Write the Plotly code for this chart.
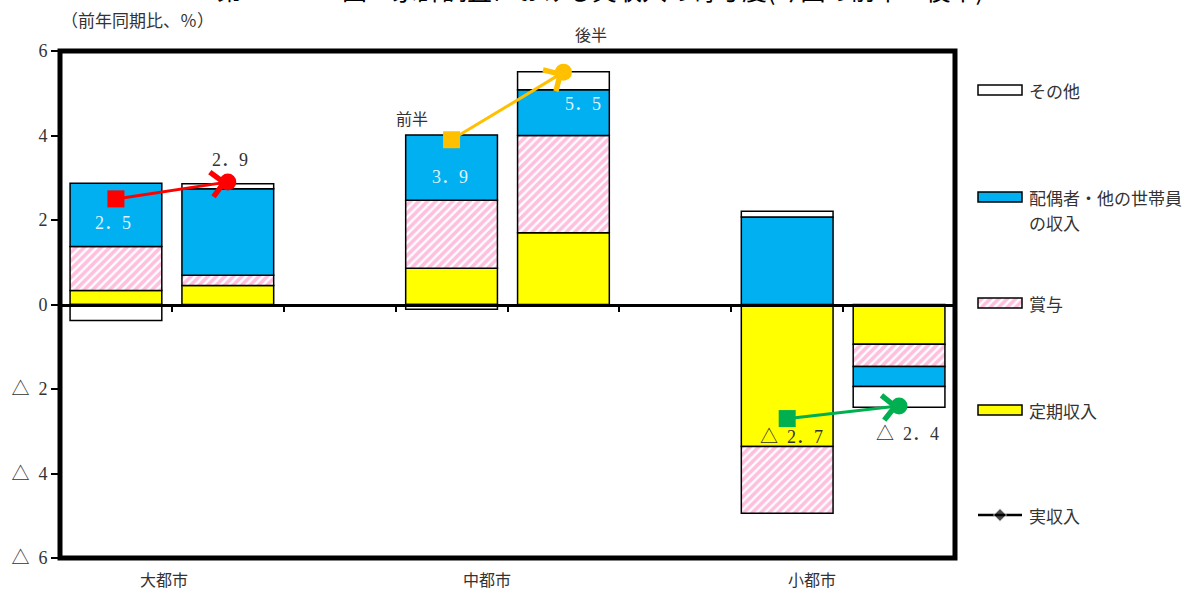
import plotly.graph_objects as go

# ---- data -------------------------------------------------------------
groups = ["大都市", "中都市", "小都市"]
halves = ["前半", "後半"]

# contributions (percentage points), order: 大前, 大後, 中前, 中後, 小前, 小後
regular = [0.33, 0.45, 0.86, 1.70, -3.36, -0.94]   # 定期収入
bonus = [1.04, 0.24, 1.61, 2.30, -1.58, -0.53]     # 賞与
spouse = [1.50, 2.05, 1.54, 1.08, 2.07, -0.47]     # 配偶者・他の世帯員の収入
other = [-0.38, 0.12, -0.11, 0.43, 0.14, -0.49]    # その他

total_first = [2.5, 3.9, -2.7]    # 実収入 前半
total_second = [2.9, 5.5, -2.4]   # 実収入 後半

y_ticks = [-6, -4, -2, 0, 2, 4, 6]

# ---- layout constants -------------------------------------------------
W, H = 1193, 590
ML, MT, MB = 60, 51, 32
PLOT_W = 895
PAPER_W = W - ML
PAPER_H = H - MT - MB

SERIF = "Liberation Serif, Noto Sans CJK JP"
SANS = "Noto Sans CJK JP"
TXT = "#333333"

arrow_colors = ["#FF0000", "#FFC000", "#00B050"]

# slot on the x axis: three slots per group, the third left empty
bar_x = [3 * g + h for g in range(len(groups)) for h in range(len(halves))]


def fmt(v, digits=1):
    s = f"{abs(v):.{digits}f}".replace(".", "．")
    return ("△\u2002" + s) if v < 0 else s


seg_styles = [
    ("定期収入", regular, dict(color="#FFFF00")),
    ("賞与", bonus, dict(color="white",
                       pattern=dict(shape="/", fgcolor="#FF80C0", bgcolor="white",
                                    size=6, solidity=0.6))),
    ("配偶者・他の世帯員の収入", spouse, dict(color="#00B0F0")),
    ("その他", other, dict(color="white")),
]

fig = go.Figure()

for name, vals, mk in seg_styles:
    fig.add_trace(go.Bar(
        x=bar_x, y=vals, name=name, width=0.82,
        marker=dict(**mk, line=dict(color="black", width=1.5)),
        showlegend=False, hoverinfo="skip",
    ))

annotations = []

# 実収入: arrow from the first half (square) to the second half (circle)
for g in range(len(groups)):
    x0, x1 = 3 * g, 3 * g + 1
    c = arrow_colors[g]
    annotations.append(dict(
        x=x1, y=total_second[g], ax=x0, ay=total_first[g],
        xref="x", yref="y", axref="x", ayref="y", text="",
        showarrow=True, arrowhead=4, arrowsize=1.6, arrowwidth=3,
        arrowcolor=c, standoff=0, startstandoff=0,
    ))
    fig.add_trace(go.Scatter(
        x=[x0], y=[total_first[g]], mode="markers",
        marker=dict(symbol="square", size=17, color=c),
        showlegend=False, hoverinfo="skip",
    ))
    fig.add_trace(go.Scatter(
        x=[x1], y=[total_second[g]], mode="markers",
        marker=dict(symbol="circle", size=17, color=c),
        showlegend=False, hoverinfo="skip",
    ))

# ---- legend (drawn on its own pixel-scaled axes) ------------------------
LEG_X0, LEG_LEN = 978, 44
legend_rows = [
    (["その他"], seg_styles[3][2], 90),
    (["配偶者・他の世帯員", "の収入"], seg_styles[2][2], 197),
    (["賞与"], seg_styles[1][2], 303),
    (["定期収入"], seg_styles[0][2], 410),
]
for label, mk, yy in legend_rows:
    fig.add_trace(go.Bar(
        x=[LEG_LEN], y=[yy], base=[LEG_X0], orientation="h", width=10,
        marker=dict(**mk, line=dict(color="black", width=1.5)),
        xaxis="x2", yaxis="y2", showlegend=False, hoverinfo="skip",
    ))
fig.add_trace(go.Scatter(
    x=[LEG_X0, LEG_X0 + LEG_LEN / 2, LEG_X0 + LEG_LEN], y=[515, 515, 515],
    mode="lines+markers", line=dict(color="black", width=2.5),
    marker=dict(symbol="diamond", size=[0, 10, 0], color="black"),
    xaxis="x2", yaxis="y2", showlegend=False, hoverinfo="skip",
))

leg_text = [(r[0], r[2]) for r in legend_rows] + [(["実収入"], 515)]
for lines, yy in leg_text:
    for k, line in enumerate(lines):
        annotations.append(dict(
            x=1027, y=yy + 25 * k, xref="x2", yref="y2", text=line,
            showarrow=False, xanchor="left", yanchor="middle",
            font=dict(family=SANS, size=17, color=TXT),
        ))

# ---- value labels -----------------------------------------------------
label_specs = [
    # (x, y, text, color, xshift, yshift)
    (0, total_first[0], fmt(total_first[0]), "#DDF2FF", -3, -24),
    (1, total_second[0], fmt(total_second[0]), TXT, 2, 22),
    (3, total_first[1], fmt(total_first[1]), "#DDF2FF", -2, -37),
    (4, total_second[1], fmt(total_second[1]), "#DDF2FF", 20, -32),
    (6, total_first[2], fmt(total_first[2]), TXT, 4, -18),
    (7, total_second[2], fmt(total_second[2]), TXT, 8, -28),
]
for x, y, t, col, xs, ys in label_specs:
    annotations.append(dict(
        x=x, y=y, xref="x", yref="y", text=t, showarrow=False,
        xanchor="center", xshift=xs, yshift=ys,
        font=dict(family=SERIF, size=18, color=col),
    ))

# half labels
annotations.append(dict(x=3, y=total_first[1], xref="x", yref="y", text=halves[0],
                        showarrow=False, xanchor="center", xshift=-40, yshift=22,
                        font=dict(family=SANS, size=16, color=TXT)))
annotations.append(dict(x=4, y=total_second[1], xref="x", yref="y", text=halves[1],
                        showarrow=False, xanchor="center", xshift=28, yshift=38,
                        font=dict(family=SANS, size=16, color=TXT)))

# group labels under the frame
group_label_x = [0.43, 3.32, 6.22]
for gx, name in zip(group_label_x, groups):
    annotations.append(dict(x=gx, y=0, xref="x", yref="paper", text=name,
                            showarrow=False, xanchor="center", yanchor="middle",
                            yshift=-21, font=dict(family=SANS, size=16, color=TXT)))

# unit note and title
annotations.append(dict(x=(137 - ML) / PAPER_W, y=1 + (MT - 20) / PAPER_H,
                        xref="paper", yref="paper", text="（前年同期比、％）",
                        showarrow=False, xanchor="center", yanchor="middle",
                        font=dict(family=SANS, size=17, color=TXT)))
annotations.append(dict(x=(600 - ML) / PAPER_W, y=1 + (MT - 9) / PAPER_H,
                        xref="paper", yref="paper",
                        text="第　　　　図　家計調査における実収入の寄与度(今回の前半・後半)",
                        showarrow=False, xanchor="center", yanchor="bottom",
                        font=dict(family=SANS, size=25, color="black")))

tick_text = [fmt(v, 0) if v != 0 else "0" for v in y_ticks]

fig.update_layout(
    width=W, height=H,
    margin=dict(l=ML, r=0, t=MT, b=MB, autoexpand=False),
    paper_bgcolor="white", plot_bgcolor="white",
    barmode="relative",
    annotations=annotations,
    xaxis=dict(
        domain=[0, PLOT_W / PAPER_W], range=[-0.5, 7.5],
        anchor="free", position=0.5, automargin=False,
        tickvals=[i + 0.5 for i in range(7)], showticklabels=False,
        ticks="outside", ticklen=6, tickwidth=1.5, tickcolor="black",
        showline=True, linecolor="black", linewidth=2.5,
        showgrid=False, zeroline=False, fixedrange=True,
    ),
    yaxis=dict(
        domain=[0, 1], range=[-6, 6], automargin=False,
        tickvals=y_ticks, ticktext=tick_text,
        ticks="outside", ticklen=8, tickwidth=1.5, tickcolor="black",
        tickfont=dict(family=SERIF, size=18, color=TXT),
        showline=False, showgrid=False, zeroline=False, fixedrange=True,
    ),
    xaxis2=dict(domain=[(975 - ML) / PAPER_W, 1], range=[975, W], anchor="y2",
                visible=False, fixedrange=True),
    yaxis2=dict(domain=[0, 1], range=[H - MB, MT], anchor="x2",
                visible=False, fixedrange=True),
    shapes=[dict(type="rect", xref="x domain", yref="y domain",
                 x0=0, x1=1, y0=0, y1=1, line=dict(color="black", width=5),
                 layer="above")],
)

fig.write_html("out.html")
